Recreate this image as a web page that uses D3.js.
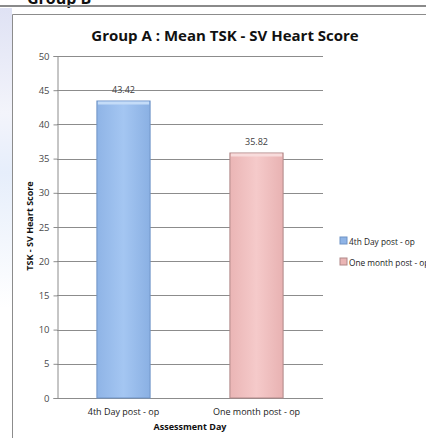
<!doctype html>
<html lang="en">
<head>
    <meta charset="utf-8">
    <title>Group A : Mean TSK - SV Heart Score</title>
    <script src="https://cdn.jsdelivr.net/npm/d3@7/dist/d3.min.js"></script>
    <style>
        body { margin: 0; background: #fff; }
        svg { display: block; font-family: "Open Sans", sans-serif; }
    </style>
</head>
<body>
<svg id="chart" width="426" height="438"></svg>
<script>
    // data
    var categories = ["4th Day post - op", "One month post - op"];
    var values = [43.42, 35.82];
    var yTicks = [0, 5, 10, 15, 20, 25, 30, 35, 40, 45, 50];
    var seriesNames = ["4th Day post - op", "One month post - op"];

    var svg = d3.select("#chart");
    var margin = { left: 57, right: 103, top: 56, bottom: 40 };
    var W = 426, H = 438;

    // page background: faint watermark strip on the left
    var defs = svg.append("defs");
    var wm = defs.append("linearGradient").attr("id", "wm")
        .attr("x1", 0).attr("y1", 0).attr("x2", 0).attr("y2", 1);
    wm.append("stop").attr("offset", "0").attr("stop-color", "#dfe2f4");
    wm.append("stop").attr("offset", "0.35").attr("stop-color", "#f3f4fb");
    wm.append("stop").attr("offset", "0.55").attr("stop-color", "#e6eefb");
    wm.append("stop").attr("offset", "1").attr("stop-color", "#ffffff");
    svg.append("rect").attr("x", 0).attr("y", 8).attr("width", 12).attr("height", 300)
        .attr("fill", "url(#wm)");

    // heading of the page above, cut off as in the picture
    svg.append("text").attr("x", 27).attr("y", 4)
        .style("font-size", "16px").style("font-weight", "bold").attr("fill", "#111")
        .text("Group B");
    svg.append("rect").attr("x", 0).attr("y", 5).attr("width", W).attr("height", 2).attr("fill", "#8a8a8a");

    // chart frame
    svg.append("path").attr("d", "M12.5," + H + "V14.5H" + W)
        .attr("fill", "none").attr("stroke", "#8c8c8c").attr("stroke-width", 1);

    var x = d3.scaleBand().domain(categories).range([margin.left, W - margin.right]).paddingInner(0.6).paddingOuter(0.3);
    var y = d3.scaleLinear().domain([0, 50]).range([H - margin.bottom, margin.top]);

    // gridlines
    svg.append("g").selectAll("line").data(yTicks.filter(function (d) { return d > 0; }))
        .enter().append("line")
        .attr("x1", margin.left).attr("x2", W - margin.right)
        .attr("y1", function (d) { return Math.round(y(d)) + 0.5; })
        .attr("y2", function (d) { return Math.round(y(d)) + 0.5; })
        .attr("stroke", "#8c8c8c");

    // y axis
    var yAxis = svg.append("g").attr("transform", "translate(" + (margin.left + 0.5) + ",0)")
        .call(d3.axisLeft(y).tickValues(yTicks).tickSize(4).tickPadding(4));
    yAxis.select(".domain").attr("stroke", "#8c8c8c");
    yAxis.selectAll(".tick line").attr("stroke", "#8c8c8c");
    yAxis.selectAll("text").style("font-size", "9.5px").attr("fill", "#4a4a4a").style("font-family", "Open Sans");

    // x axis baseline
    svg.append("line").attr("x1", margin.left).attr("x2", W - margin.right)
        .attr("y1", Math.round(y(0)) + 0.5).attr("y2", Math.round(y(0)) + 0.5).attr("stroke", "#8c8c8c");

    // bar gradients
    var fills = [["#8fb4e6", "#a4c6f2", "#8ab0e3", "#6f93c6"], ["#eab5b5", "#f5caca", "#e8b2b2", "#b08888"]];
    fills.forEach(function (f, i) {
        var g = defs.append("linearGradient").attr("id", "bar" + i);
        g.append("stop").attr("offset", "0").attr("stop-color", f[0]);
        g.append("stop").attr("offset", "0.5").attr("stop-color", f[1]);
        g.append("stop").attr("offset", "1").attr("stop-color", f[2]);
    });

    var bars = svg.append("g").selectAll("g").data(values).enter().append("g");
    bars.append("rect")
        .attr("x", function (d, i) { return x(categories[i]); })
        .attr("y", function (d) { return y(d); })
        .attr("width", x.bandwidth())
        .attr("height", function (d) { return y(0) - y(d); })
        .attr("fill", function (d, i) { return "url(#bar" + i + ")"; })
        .attr("stroke", function (d, i) { return fills[i][3]; })
        .attr("stroke-width", 1);
    // top bevel
    bars.append("rect")
        .attr("x", function (d, i) { return x(categories[i]) + 1; })
        .attr("y", function (d) { return y(d) + 0.5; })
        .attr("width", x.bandwidth() - 2)
        .attr("height", 3)
        .attr("fill", function (d, i) { return i === 0 ? "#c4dcf8" : "#f8dcdc"; });

    // value labels
    bars.append("text")
        .attr("x", function (d, i) { return x(categories[i]) + x.bandwidth() / 2; })
        .attr("y", function (d) { return y(d) - 8; })
        .attr("text-anchor", "middle")
        .style("font-size", "9px").attr("fill", "#404040")
        .text(function (d) { return d.toFixed(2); });

    // category labels
    svg.append("g").selectAll("text").data(categories).enter().append("text")
        .attr("x", function (d) { return x(d) + x.bandwidth() / 2; })
        .attr("y", 415)
        .attr("text-anchor", "middle")
        .style("font-size", "9px").attr("fill", "#222")
        .text(function (d) { return d; });

    // axis titles
    svg.append("text").attr("x", (margin.left + W - margin.right) / 2).attr("y", 430)
        .attr("text-anchor", "middle").style("font-size", "9px").style("font-weight", "bold").attr("fill", "#111")
        .text("Assessment Day");
    svg.append("text").attr("transform", "translate(33,226) rotate(-90)")
        .attr("text-anchor", "middle").style("font-size", "9px").style("font-weight", "bold").attr("fill", "#111")
        .text("TSK - SV Heart Score");

    // title
    svg.append("text").attr("x", 225).attr("y", 41)
        .attr("text-anchor", "middle").style("font-size", "15px").style("font-weight", "bold").attr("fill", "#111")
        .text("Group A : Mean TSK - SV Heart Score");

    // legend
    var legend = svg.append("g").selectAll("g").data(seriesNames).enter().append("g")
        .attr("transform", function (d, i) { return "translate(340," + (241 + i * 21) + ")"; });
    legend.append("rect").attr("x", 0).attr("y", -4).attr("width", 7).attr("height", 7)
        .attr("fill", function (d, i) { return fills[i][0]; })
        .attr("stroke", function (d, i) { return fills[i][3]; });
    legend.append("text").attr("x", 9).attr("y", 3.5)
        .style("font-size", "8.3px").attr("fill", "#222")
        .text(function (d) { return d; });
</script>
</body>
</html>
